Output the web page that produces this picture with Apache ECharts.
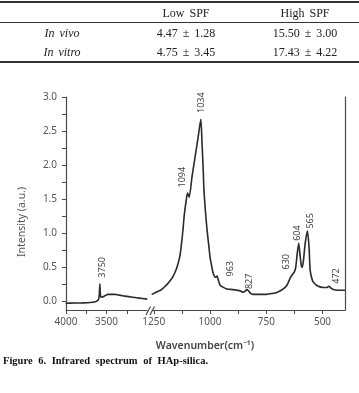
<!DOCTYPE html>
<html>
<head>
<meta charset="utf-8">
<script src="https://cdn.jsdelivr.net/npm/echarts@6/dist/echarts.min.js"></script>
<style>
  html, body { margin: 0; padding: 0; background: #fff; }
  .page { position: relative; width: 359px; height: 393px; overflow: hidden; }
  #chart { position: absolute; left: 0; top: 0; width: 359px; height: 393px; }
  .rule { position: absolute; left: 0; width: 359px; background: #333; }
  .cell {
    position: absolute;
    width: 120px;
    margin-left: -60px;
    text-align: center;
    font-family: "Liberation Serif", "DejaVu Serif", serif;
    font-size: 12px;
    color: #222;
    word-spacing: 2px;
    line-height: 14px;
  }
  .cell.it { font-style: italic; }
  .caption {
    position: absolute;
    left: 3px;
    top: 355px;
    font-family: "Liberation Serif", serif;
    font-weight: bold;
    font-size: 10.5px;
    color: #111;
    word-spacing: 3px;
    white-space: nowrap;
  }
</style>
</head>
<body>
<div class="page">
  <div id="chart"></div>

  <div class="rule" style="top:1px;height:2px"></div>
  <div class="cell" style="left:186px;top:6px">Low SPF</div>
  <div class="cell" style="left:305px;top:6px">High SPF</div>
  <div class="rule" style="top:22px;height:1px"></div>
  <div class="cell it" style="left:62px;top:26px">In vivo</div>
  <div class="cell" style="left:186px;top:26px">4.47 ± 1.28</div>
  <div class="cell" style="left:305px;top:26px">15.50 ± 3.00</div>
  <div class="cell it" style="left:62px;top:45px">In vitro</div>
  <div class="cell" style="left:186px;top:45px">4.75 ± 3.45</div>
  <div class="cell" style="left:305px;top:45px">17.43 ± 4.22</div>
  <div class="rule" style="top:61px;height:2px"></div>

  <div class="caption">Figure 6. Infrared spectrum of HAp-silica.</div>
</div>
<script>
// high wavenumber part (left of the axis break)
var leftWavenumber = [4000, 3900, 3800, 3700, 3650, 3620, 3600, 3590, 3582, 3576, 3568, 3550, 3520, 3480, 3440, 3400, 3350, 3300, 3200, 3100, 3000];
var leftIntensity = [-0.03, -0.028, -0.025, -0.02, -0.012, 0.0, 0.02, 0.08, 0.25, 0.1, 0.06, 0.06, 0.08, 0.1, 0.1, 0.1, 0.09, 0.08, 0.06, 0.045, 0.03];

// fingerprint part (right of the break)
var rightWavenumber = [1258, 1240, 1220, 1209, 1190, 1175, 1165, 1150, 1140, 1133, 1125, 1120, 1115, 1111, 1106, 1100, 1093, 1080, 1065, 1052, 1041, 1036, 1030, 1027, 1020, 1013, 1005, 1000, 993, 987, 980, 975, 969, 963, 956, 945, 925, 900, 880, 865, 853, 843, 836, 828, 822, 809, 780, 750, 733, 710, 689, 670, 659, 650, 644, 632, 625, 619, 613, 606, 600, 594, 590, 584, 577, 567, 560, 555, 548, 541, 525, 511, 495, 481, 472, 462, 452, 430, 400];
var rightIntensity = [0.1, 0.13, 0.16, 0.19, 0.25, 0.31, 0.36, 0.47, 0.58, 0.68, 0.9, 1.06, 1.25, 1.36, 1.48, 1.59, 1.53, 1.83, 2.15, 2.43, 2.67, 2.35, 1.9, 1.63, 1.3, 1.04, 0.8, 0.65, 0.52, 0.42, 0.36, 0.35, 0.37, 0.31, 0.24, 0.21, 0.18, 0.17, 0.16, 0.15, 0.13, 0.15, 0.17, 0.15, 0.12, 0.1, 0.1, 0.1, 0.11, 0.12, 0.15, 0.19, 0.23, 0.29, 0.34, 0.4, 0.43, 0.5, 0.68, 0.85, 0.68, 0.52, 0.5, 0.62, 0.85, 1.03, 0.8, 0.46, 0.34, 0.28, 0.23, 0.21, 0.2, 0.2, 0.22, 0.19, 0.17, 0.16, 0.16];

// peak annotations: which point they sit on, text, and nudge [dx, gap]
var peakAt = [3582, 1100, 1041, 969, 836, 632, 606, 567, 472];
var peakText = ['3750', '1094', '1034', '963', '827', '630', '604', '565', '472'];
var peakNudge = [[2, 7], [-6, 6], [0, 7], [13, 0], [2, 1], [-7, 5], [-2, 3], [3, 3], [7, 3]];

var yTicks = [0, 0.25, 0.5, 0.75, 1, 1.25, 1.5, 1.75, 2, 2.25, 2.5, 2.75, 3];
var yLabels = [0, 0.5, 1, 1.5, 2, 2.5, 3];
var leftTicks = [3250, 3500, 3750, 4000];
var leftLabels = [3500, 4000];
var rightTicks = [500, 625, 750, 875, 1000, 1125, 1250];
var rightLabels = [500, 750, 1000, 1250];

var ink = '#2b2b2b';
var axisInk = '#4a4a4a';
var font = 'Noto Sans';

function buildData(xs, ys) {
  return xs.map(function (x, i) {
    var item = { value: [x, ys[i]] };
    var k = peakAt.indexOf(x);
    if (k >= 0) {
      item.label = {
        show: true,
        formatter: peakText[k],
        position: [peakNudge[k][0] + 1, 1 - peakNudge[k][1]],
        rotate: 90,
        align: 'left',
        verticalAlign: 'middle',
        fontSize: 9,
        fontFamily: font,
        color: '#444'
      };
    }
    return item;
  });
}

function xAxisFor(idx, min, max, ticks, labels) {
  return {
    type: 'value',
    gridIndex: idx,
    inverse: true,
    min: min,
    max: max,
    axisLine: { onZero: false, lineStyle: { color: axisInk, width: 1.2 } },
    axisTick: { customValues: ticks, length: 4, lineStyle: { color: axisInk } },
    axisLabel: {
      customValues: labels,
      margin: 7,
      fontSize: 10,
      fontFamily: font,
      color: '#555',
      formatter: function (v) { return String(v); }
    },
    splitLine: { show: false }
  };
}

var chart = echarts.init(document.getElementById('chart'));
chart.setOption({
  animation: false,
  grid: [
    { left: 66, top: 97, width: 81, height: 213 },
    { left: 152, top: 97, width: 193, height: 213 }
  ],
  xAxis: [
    xAxisFor(0, 3000, 4000, leftTicks, leftLabels),
    xAxisFor(1, 400, 1258, rightTicks, rightLabels)
  ],
  yAxis: [
    {
      type: 'value',
      gridIndex: 0,
      min: -0.13,
      max: 3,
      axisLine: { show: true, lineStyle: { color: axisInk, width: 1.2 } },
      axisTick: { show: true, customValues: yTicks, length: 4, lineStyle: { color: axisInk } },
      axisLabel: {
        customValues: yLabels,
        margin: 9,
        fontSize: 10,
        fontFamily: font,
        color: '#555',
        formatter: function (v) { return v.toFixed(1); }
      },
      splitLine: { show: false }
    },
    {
      type: 'value',
      gridIndex: 1,
      position: 'right',
      min: -0.13,
      max: 3,
      axisLine: { show: true, lineStyle: { color: axisInk, width: 1.2 } },
      axisTick: { show: false },
      axisLabel: { show: false },
      splitLine: { show: false }
    }
  ],
  series: [
    {
      type: 'line',
      xAxisIndex: 0,
      yAxisIndex: 0,
      data: buildData(leftWavenumber, leftIntensity),
      smooth: 0.25,
      symbol: 'circle',
      symbolSize: 1,
      itemStyle: { color: ink },
      lineStyle: { color: ink, width: 1.6 }
    },
    {
      type: 'line',
      xAxisIndex: 1,
      yAxisIndex: 1,
      data: buildData(rightWavenumber, rightIntensity),
      smooth: 0.25,
      symbol: 'circle',
      symbolSize: 1,
      itemStyle: { color: ink },
      lineStyle: { color: ink, width: 1.6 }
    }
  ],
  graphic: [
    {
      type: 'text',
      x: 22,
      y: 222,
      rotation: Math.PI / 2,
      style: {
        text: 'Intensity (a.u.)',
        font: '10.5px "Noto Sans"',
        fill: '#555',
        align: 'center',
        verticalAlign: 'middle'
      }
    },
    {
      type: 'text',
      x: 205,
      y: 346,
      style: {
        text: 'Wavenumber(cm⁻¹)',
        font: '600 10.5px "Noto Sans"',
        fill: '#444',
        align: 'center',
        verticalAlign: 'middle'
      }
    },
    {
      type: 'polyline',
      shape: { points: [[146, 315], [150.5, 306.5]] },
      style: { stroke: axisInk, lineWidth: 1.2 }
    },
    {
      type: 'polyline',
      shape: { points: [[150, 315], [154.5, 306.5]] },
      style: { stroke: axisInk, lineWidth: 1.2 }
    }
  ]
});
</script>
</body>
</html>
